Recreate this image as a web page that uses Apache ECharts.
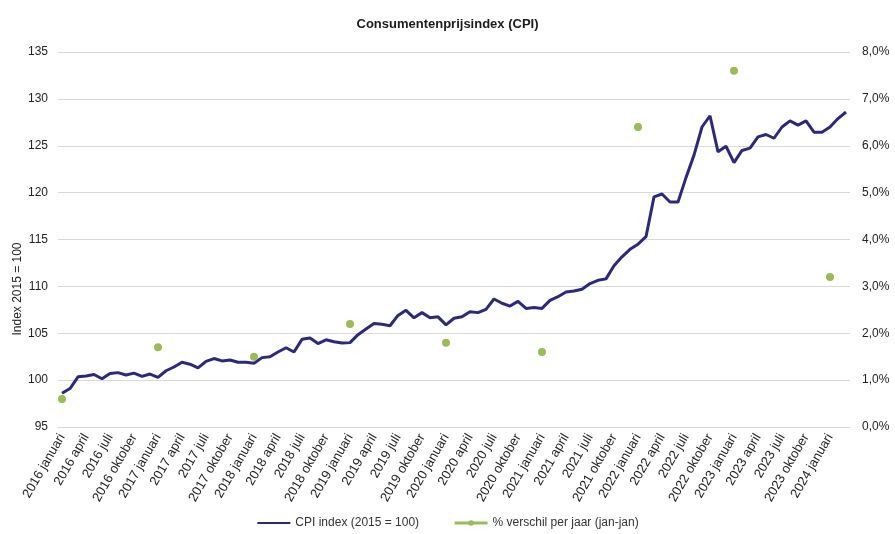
<!DOCTYPE html>
<html>
<head>
<meta charset="utf-8">
<script src="https://cdn.jsdelivr.net/npm/echarts@6/dist/echarts.min.js"></script>
<style>
  html, body { margin: 0; padding: 0; background: #fff; }
  #cpi-chart { width: 895px; height: 534px; }
</style>
</head>
<body>
<div id="cpi-chart"></div>
<script>
// maanden en jaren
var years = [2016, 2017, 2018, 2019, 2020, 2021, 2022, 2023, 2024];
var monthNames = ["januari", "februari", "maart", "april", "mei", "juni", "juli",
  "augustus", "september", "oktober", "november", "december"];

// CPI index (2015 = 100), jan 2016 t/m maart 2024
var cpiValues = [
  98.6, 99.1, 100.35, 100.45, 100.6, 100.15, 100.7, 100.8, 100.55, 100.75, 100.4, 100.65,
  100.3, 101.0, 101.4, 101.9, 101.7, 101.3, 102.0, 102.3, 102.05, 102.15, 101.9, 101.9,
  101.8, 102.4, 102.5, 103.0, 103.45, 103.0, 104.35, 104.5, 103.9, 104.3, 104.1, 103.95,
  104.0, 104.85, 105.45, 106.05, 105.95, 105.8, 106.9, 107.45, 106.65, 107.2, 106.65, 106.75,
  105.9, 106.6, 106.75, 107.3, 107.2, 107.55, 108.65, 108.2, 107.9, 108.4, 107.65, 107.75,
  107.65, 108.5, 108.9, 109.4, 109.5, 109.7, 110.3, 110.65, 110.8, 112.2, 113.15, 113.95,
  114.5, 115.3, 119.55, 119.85, 119.0, 119.0, 121.6, 124.0, 127.0, 128.2, 124.35, 124.95,
  123.2, 124.5, 124.75, 125.95, 126.2, 125.8, 127.0, 127.65, 127.2, 127.65, 126.45, 126.45,
  127.0, 127.9, 128.6
];

// % verschil per jaar (jan-jan), steeds in januari
var yearlyChange = [0.6, 1.7, 1.5, 2.2, 1.8, 1.6, 6.4, 7.6, 3.2];

var leftTicks = { min: 95, max: 135, step: 5 };
var rightTicks = { min: 0, max: 8, step: 1 };

var categories = [];
years.forEach(function (y) {
  monthNames.forEach(function (m) {
    if (categories.length < cpiValues.length) categories.push(y + " " + m);
  });
});

// groene punten alleen op januari
var changeSeries = categories.map(function () { return null; });
yearlyChange.forEach(function (v, i) { changeSeries[i * 12] = v; });

var font = "'Liberation Sans', Arial, sans-serif";
var chart = echarts.init(document.getElementById("cpi-chart"));

var option = {
  textStyle: { fontFamily: font },
  animation: false,
  title: {
    text: "Consumentenprijsindex (CPI)",
    left: "center",
    top: 13,
    textStyle: { fontSize: 13, fontWeight: "bold", color: "#1a1a1a", fontFamily: font }
  },
  legend: {
    bottom: 0,
    left: "center",
    itemGap: 34,
    itemWidth: 33,
    itemHeight: 7,
    textStyle: { fontSize: 12, color: "#333", fontFamily: font },
    data: [
      { name: "CPI index (2015 = 100)", itemStyle: { opacity: 0 } },
      { name: "% verschil per jaar (jan-jan)", lineStyle: { color: "#9bbb59", width: 3, opacity: 1 } }
    ]
  },
  grid: { left: 58, right: 45, top: 52, bottom: 107 },
  graphic: [{
    type: "text",
    x: 18,
    y: 289,
    rotation: Math.PI / 2,
    style: {
      text: "Index 2015 = 100",
      fontSize: 12,
      fontFamily: font,
      fill: "#222",
      align: "center",
      verticalAlign: "middle"
    }
  }],
  xAxis: {
    type: "category",
    data: categories,
    boundaryGap: true,
    axisTick: { show: false },
    axisLine: { lineStyle: { color: "#d9d9d9" } },
    axisLabel: {
      interval: 2,
      rotate: 60,
      margin: 8,
      fontSize: 13,
      color: "#222",
      fontFamily: font
    }
  },
  yAxis: [{
    type: "value",
    min: leftTicks.min,
    max: leftTicks.max,
    interval: leftTicks.step,
    axisLine: { show: false },
    axisTick: { show: false },
    axisLabel: { fontSize: 12, color: "#222", margin: 10, fontFamily: font },
    splitLine: { lineStyle: { color: "#d9d9d9" } }
  }, {
    type: "value",
    position: "right",
    min: rightTicks.min,
    max: rightTicks.max,
    interval: rightTicks.step,
    axisLine: { show: false },
    axisTick: { show: false },
    splitLine: { show: false },
    axisLabel: {
      fontSize: 12,
      color: "#222",
      margin: 12,
      fontFamily: font,
      formatter: function (v) { return v.toFixed(1).replace(".", ",") + "%"; }
    }
  }],
  series: [{
    name: "CPI index (2015 = 100)",
    type: "line",
    data: cpiValues,
    symbol: "none",
    color: "#2c2a78",
    lineStyle: { color: "#2c2a78", width: 3 },
    z: 3
  }, {
    name: "% verschil per jaar (jan-jan)",
    type: "line",
    yAxisIndex: 1,
    data: changeSeries,
    connectNulls: false,
    symbol: "circle",
    symbolSize: 8,
    showSymbol: true,
    showAllSymbol: true,
    color: "#9bbb59",
    itemStyle: { color: "#9bbb59" },
    lineStyle: { width: 0 },
    z: 4
  }]
};

chart.setOption(option);
</script>
</body>
</html>
